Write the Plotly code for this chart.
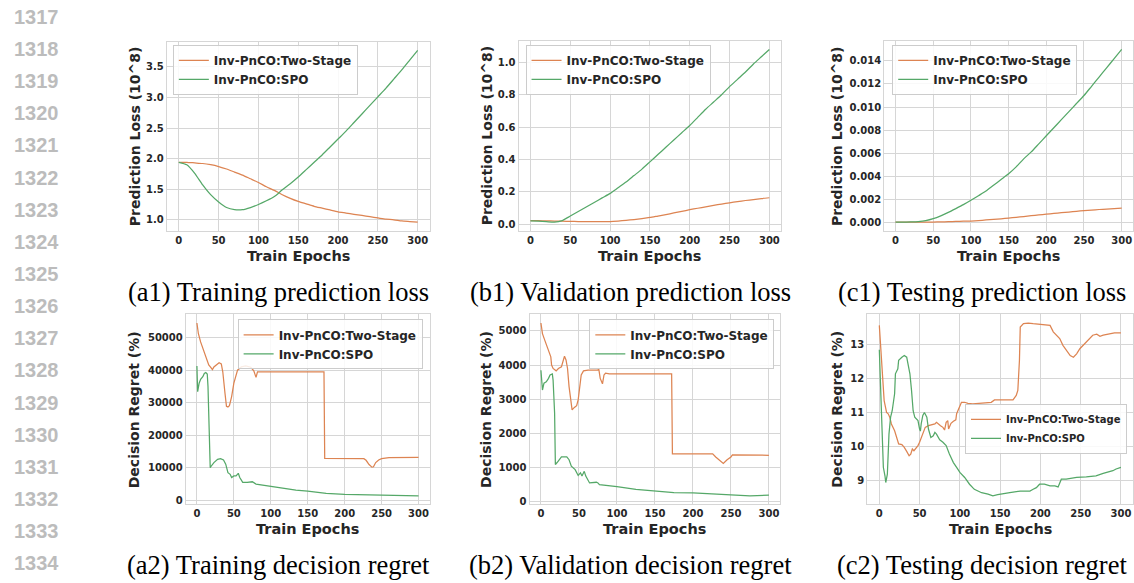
import plotly.graph_objects as go

W, H = 1134, 583
ORANGE = "#dd8452"
GREEN = "#55a868"
GRID = "#d6d6d6"
TXT = "#262626"
NAME_TWO = "Inv-PnCO:Two-Stage"
NAME_SPO = "Inv-PnCO:SPO"

# ---------------- data ----------------
epochs10 = [0, 10, 20, 30, 40, 50, 60, 70, 80, 90, 100, 110, 120, 130, 140, 150,
            160, 170, 180, 190, 200, 210, 220, 230, 240, 250, 260, 270, 280, 290, 300]

a1_two = [1.94, 1.94, 1.93, 1.92, 1.90, 1.87, 1.83, 1.78, 1.73, 1.67, 1.61, 1.54, 1.48, 1.41, 1.35, 1.30,
          1.26, 1.22, 1.19, 1.16, 1.13, 1.11, 1.09, 1.07, 1.05, 1.03, 1.01, 1.00, 0.98, 0.97, 0.96]
a1_spo = [1.94, 1.90, 1.76, 1.57, 1.41, 1.29, 1.20, 1.165, 1.165, 1.20, 1.25, 1.31, 1.38, 1.49, 1.59, 1.70,
          1.82, 1.94, 2.06, 2.19, 2.32, 2.45, 2.59, 2.73, 2.87, 3.01, 3.15, 3.30, 3.45, 3.61, 3.77]

b1_two = [0.022, 0.021, 0.020, 0.019, 0.018, 0.017, 0.016, 0.015, 0.015, 0.015, 0.016, 0.019, 0.023, 0.028, 0.034, 0.041,
          0.050, 0.059, 0.069, 0.079, 0.089, 0.098, 0.107, 0.116, 0.124, 0.132, 0.139, 0.146, 0.152, 0.158, 0.163]
b1_spo = [0.020, 0.018, 0.015, 0.012, 0.022, 0.050, 0.078, 0.106, 0.134, 0.162, 0.190, 0.225, 0.260, 0.300, 0.340, 0.385,
          0.430, 0.475, 0.520, 0.565, 0.610, 0.660, 0.710, 0.755, 0.800, 0.850, 0.895, 0.940, 0.990, 1.035, 1.080]

c1_two = [0.0, 0.0, 0.0, 0.0, 0.000005, 0.00001, 0.00002, 0.00004, 0.00006, 0.00008, 0.0001, 0.00014, 0.00019, 0.00024,
          0.00029, 0.00035, 0.00042, 0.00049, 0.00056, 0.00063, 0.0007, 0.00076, 0.00082, 0.00088, 0.00094, 0.001,
          0.00105, 0.0011, 0.00114, 0.00118, 0.00122]
c1_spo = [0.0, 0.0, 0.00002, 0.00005, 0.00013, 0.0003, 0.00055, 0.00085, 0.00118, 0.00152, 0.0019, 0.0023, 0.0027,
          0.0032, 0.0037, 0.0042, 0.0048, 0.0055, 0.0061, 0.0068, 0.0075, 0.0082, 0.0089, 0.0096, 0.0103, 0.0110,
          0.0118, 0.0126, 0.0134, 0.0142, 0.0150]

a2_two_x = [0, 2, 5, 10, 13, 16, 19, 21, 23, 26, 30, 33, 35, 38, 40, 42, 44, 47, 50, 55, 60, 66, 73, 77, 80, 82,
            172, 173, 226, 229, 233, 237, 239, 242, 246, 250, 260, 300]
a2_two_y = [54500, 51200, 48700, 45600, 43100, 41600, 40800, 40200, 41000, 41600, 42300, 41900, 39500, 32900, 28900,
            28700, 29100, 31900, 36000, 40000, 41000, 41300, 40900, 39800, 37800, 39500,
            39500, 12900, 12800, 12300, 11000, 10200, 10300, 11600, 12400, 12800, 13100, 13200]
a2_spo_x = [0, 1, 3, 5, 8, 10, 12, 14, 15, 16, 17, 18, 19, 23, 28, 32, 36, 39, 42, 45, 47, 50, 53, 56, 58, 62, 68,
            75, 80, 93, 100, 125, 134, 150, 175, 200, 225, 250, 275, 300]
a2_spo_y = [41300, 33400, 36000, 37200, 38000, 39000, 39300, 38800, 35000, 24000, 13000, 10000, 10400, 11600, 12600,
            12800, 12400, 11100, 8500, 8000, 7000, 7500, 7500, 8300, 7000, 5500, 5500,
            5700, 5000, 4500, 4200, 3400, 3100, 2800, 2100, 1800, 1700, 1700, 1600, 1400]

b2_two_x = [0, 2, 5, 8, 11, 13, 14, 16, 20, 23, 27, 29, 31, 33, 35, 37, 39, 41, 44, 47, 49, 51, 53, 56, 62, 75, 76,
            78, 81, 83, 85, 90, 172, 173, 226, 230, 235, 240, 245, 250, 252, 300]
b2_two_y = [5230, 4920, 4730, 4530, 4390, 4240, 4000, 3900, 3830, 3900, 3950, 4150, 4260, 4150, 3900, 3370, 2930,
            2690, 2760, 2810, 2980, 3420, 3710, 3830, 3850, 3850, 3900,
            3610, 3450, 3710, 3760, 3740, 3740, 1400, 1400, 1310, 1210, 1120, 1230, 1310, 1370, 1360]
b2_spo_x = [0, 2, 4, 7, 10, 12, 15, 16, 18, 19, 21, 24, 27, 34, 37, 40, 45, 49, 52, 54, 57, 59, 64, 73, 75, 77, 90,
            100, 125, 150, 175, 200, 225, 250, 275, 300]
b2_spo_y = [3850, 3270, 3470, 3510, 3610, 3710, 3740, 3560, 2590, 1090, 1140, 1230, 1310, 1310, 1230, 1040, 940, 770,
            845, 750, 890, 750, 550, 570, 550, 500, 470,
            440, 360, 310, 270, 260, 220, 200, 175, 190]

c2_two_x = [0, 2, 4, 6, 9, 11, 13, 15, 19, 22, 24, 28, 31, 34, 37, 39, 41, 43, 45, 48, 50, 52, 55, 57, 61, 65, 69,
            71, 73, 76, 79, 81, 83, 85, 86, 89, 92, 95, 96, 99, 102, 106, 110, 116, 127, 139, 143, 166, 170, 172,
            174, 175, 179, 185, 191, 204, 212, 216, 220, 224, 228, 232, 237, 241, 245, 249, 255, 261, 265, 270,
            274, 278, 284, 292, 300]
c2_two_y = [13.57, 12.73, 11.94, 11.35, 11.0, 10.96, 10.86, 10.66, 10.46, 10.26, 10.07, 10.05, 9.97, 9.85, 9.72,
            9.77, 9.92, 9.87, 9.92, 10.02, 10.12, 10.26, 10.41, 10.56, 10.61, 10.63, 10.66,
            10.71, 10.66, 10.61, 10.56, 10.48, 10.71, 10.76, 10.51, 10.68, 10.74, 10.78, 10.96, 11.15, 11.30, 11.30,
            11.27, 11.25, 11.27, 11.30, 11.37, 11.37, 11.5, 11.65,
            12.54, 13.52, 13.62, 13.64, 13.62, 13.60, 13.57, 13.38, 13.28, 13.18, 12.98, 12.83, 12.68, 12.63, 12.73,
            12.88, 13.03, 13.18, 13.28, 13.31,
            13.25, 13.28, 13.31, 13.35, 13.35]
c2_spo_x = [0, 2, 4, 5, 7, 8, 10, 11, 12, 14, 16, 19, 20, 23, 24, 28, 31, 34, 36, 38, 40, 42, 44, 46, 48, 50, 51,
            52, 54, 56, 59, 61, 64, 67, 69, 71, 75, 79, 83, 87, 92, 96, 100, 106, 112, 118, 127, 135, 141, 147,
            154, 162, 175, 187, 191, 195, 199, 205, 212, 218, 222, 226, 232, 238, 245, 257, 269, 278, 284, 290,
            294, 300]
c2_spo_y = [12.85, 11.45, 9.97, 9.38, 9.13, 8.93, 9.18, 9.77, 10.36, 10.86, 11.05, 11.55, 12.14, 12.29, 12.54,
            12.63, 12.68, 12.63, 12.34, 12.14, 11.65, 11.05, 10.86, 10.81, 10.76, 10.51, 10.45,
            10.66, 10.91, 11.0, 10.86, 10.51, 10.26, 10.31, 10.41, 10.36, 10.19, 10.12, 10.02, 9.77, 9.52, 9.38,
            9.23, 9.08, 8.88, 8.73, 8.63, 8.59, 8.54, 8.57,
            8.59, 8.63, 8.68, 8.68, 8.73, 8.78, 8.88, 8.88, 8.83, 8.83, 8.80, 9.03, 9.03, 9.06, 9.08, 9.10, 9.13,
            9.20, 9.23, 9.28,
            9.33, 9.38]

x_ticks = [0, 50, 100, 150, 200, 250, 300]
a1_yticks = [1.0, 1.5, 2.0, 2.5, 3.0, 3.5]
b1_yticks = [0.0, 0.2, 0.4, 0.6, 0.8, 1.0]
c1_yticks = [0.000, 0.002, 0.004, 0.006, 0.008, 0.010, 0.012, 0.014]
a2_yticks = [0, 10000, 20000, 30000, 40000, 50000]
b2_yticks = [0, 1000, 2000, 3000, 4000, 5000]
c2_yticks = [9, 10, 11, 12, 13]

captions = ["(a1) Training prediction loss", "(b1) Validation prediction loss", "(c1) Testing prediction loss",
            "(a2) Training decision regret", "(b2) Validation decision regret", "(c2) Testing decision regret"]
line_numbers = list(range(1317, 1335))

# ---------------- layout helpers (pixel boxes) ----------------
panels = [
    dict(box=(167, 430, 42, 232), two=(epochs10, a1_two), spo=(epochs10, a1_spo), yt=a1_yticks, fmt=".1f",
         ytitle="Prediction Loss (10^8)", ytx=135, leg=(173, 45, "left", "top", 12), shape="spline"),
    dict(box=(519, 782, 41, 232), two=(epochs10, b1_two), spo=(epochs10, b1_spo), yt=b1_yticks, fmt=".1f",
         ytitle="Prediction Loss (10^8)", ytx=487, leg=(526, 45, "left", "top", 12), shape="spline"),
    dict(box=(885, 1134, 41, 232), two=(epochs10, c1_two), spo=(epochs10, c1_spo), yt=c1_yticks, fmt=".3f",
         ytitle="Prediction Loss (10^8)", ytx=838, leg=(893, 45, "left", "top", 12), shape="spline"),
    dict(box=(186, 430, 316, 507), two=(a2_two_x, a2_two_y), spo=(a2_spo_x, a2_spo_y), yt=a2_yticks, fmt="d",
         ytitle="Decision Regret (%)", ytx=135, leg=(423, 321, "right", "top", 12), shape="linear"),
    dict(box=(530, 781, 316, 507), two=(b2_two_x, b2_two_y), spo=(b2_spo_x, b2_spo_y), yt=b2_yticks, fmt="d",
         ytitle="Decision Regret (%)", ytx=487, leg=(775, 321, "right", "top", 12), shape="linear"),
    dict(box=(868, 1134, 316, 507), two=(c2_two_x, c2_two_y), spo=(c2_spo_x, c2_spo_y), yt=c2_yticks, fmt="d",
         ytitle="Decision Regret (%)", ytx=838, leg=(1128, 431, "right", "middle", 10), shape="linear"),
]
caption_pos = [(279, 294), (631, 294), (983, 294), (279, 568), (631, 568), (983, 568)]

fig = go.Figure()
layout = dict(width=W, height=H, margin=dict(l=0, r=0, t=0, b=0), paper_bgcolor="white",
              plot_bgcolor="white", showlegend=True)
annotations = []

tickfont = dict(family="DejaVu Sans", size=10, color=TXT, weight="bold")
titlefont = dict(family="DejaVu Sans", size=14, color=TXT, weight="bold")

for i, p in enumerate(panels):
    n = "" if i == 0 else str(i + 1)
    x0, x1, y0, y1 = p["box"]
    ys = list(p["two"][1]) + list(p["spo"][1])
    lo, hi = min(ys), max(ys)
    pad = 0.05 * (hi - lo)
    legname = "legend" if i == 0 else "legend" + str(i + 1)
    for (xs, yv), name, col in [(p["two"], NAME_TWO, ORANGE), (p["spo"], NAME_SPO, GREEN)]:
        fig.add_trace(go.Scatter(x=xs, y=yv, mode="lines", name=name,
                                 line=dict(color=col, width=1.25, shape=p["shape"], smoothing=0.6),
                                 xaxis="x" + n, yaxis="y" + n, legend=legname))
    common = dict(showline=True, linecolor=GRID, linewidth=1.2, mirror=True, showgrid=True, gridcolor=GRID,
                  gridwidth=1.2, zeroline=False, ticks="", tickfont=tickfont)
    layout["xaxis" + n] = dict(common, domain=[x0 / W, x1 / W], range=[-15, 315], tickvals=x_ticks,
                               anchor="y" + n)
    layout["yaxis" + n] = dict(common, domain=[1 - y1 / H, 1 - y0 / H], range=[lo - pad, hi + pad],
                               tickvals=p["yt"], tickformat=p["fmt"], anchor="x" + n)
    lx, ly, xa, ya, fs = p["leg"]
    layout[legname] = dict(x=lx / W, y=1 - ly / H, xanchor=xa, yanchor=ya,
                           bgcolor="rgba(255,255,255,0.85)", bordercolor="#cccccc", borderwidth=1,
                           font=dict(family="DejaVu Sans", size=fs, color=TXT, weight="bold"),
                           tracegroupgap=0, itemwidth=30)
    # axis titles
    annotations.append(dict(text="Train Epochs", x=((x0 + x1) / 2) / W, y=1 - (y1 + 25) / H,
                            xref="paper", yref="paper", showarrow=False, xanchor="center", yanchor="middle",
                            font=dict(titlefont, size=14.5)))
    annotations.append(dict(text=p["ytitle"], x=p["ytx"] / W, y=1 - ((y0 + y1) / 2) / H, textangle=-90,
                            xref="paper", yref="paper", showarrow=False, xanchor="center", yanchor="middle",
                            font=titlefont))

for cap, (cx, cy) in zip(captions, caption_pos):
    annotations.append(dict(text=cap, x=cx / W, y=1 - cy / H, xref="paper", yref="paper", showarrow=False,
                            xanchor="center", yanchor="middle",
                            font=dict(family="Liberation Serif", size=26.5, color="black")))

for k, ln in enumerate(line_numbers):
    annotations.append(dict(text=str(ln), x=12 / W, y=1 - (17 + k * 32.3) / H, xref="paper", yref="paper",
                            showarrow=False, xanchor="left", yanchor="middle",
                            font=dict(family="Liberation Sans", size=20, color="#bcbcbc", weight="bold")))

layout["annotations"] = annotations
fig.update_layout(**layout)
fig.write_html("out.html", config={"displayModeBar": False},
               post_script="document.body.style.margin='0';document.body.style.overflow='hidden';")
